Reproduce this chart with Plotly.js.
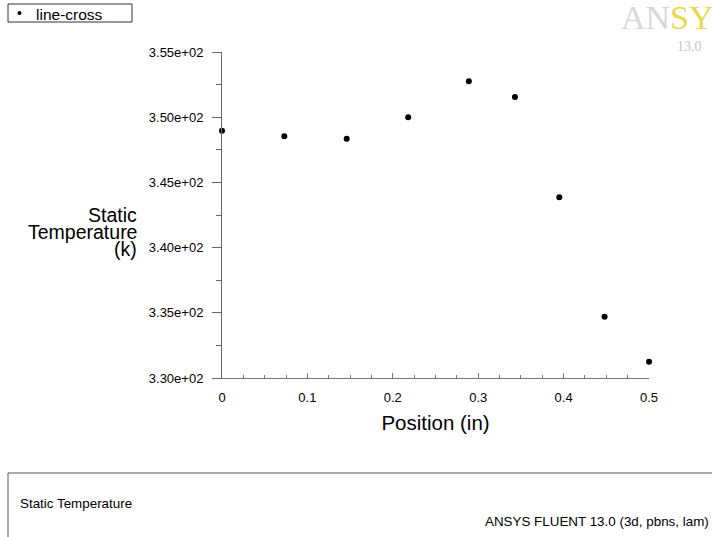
<!DOCTYPE html>
<html>
<head>
<meta charset="utf-8">
<script src="https://cdn.plot.ly/plotly-3.0.1.min.js"></script>
<style>html,body{margin:0;padding:0;background:#fff;}#chart{width:712px;height:537px;}</style>
</head>
<body>
<div id="chart"></div>
<script>
// Data
const seriesName = "line-cross";
const positionIn = [0.0, 0.073, 0.146, 0.218, 0.289, 0.343, 0.395, 0.448, 0.5];
const staticTempK = [348.97, 348.54, 348.35, 349.99, 352.75, 351.55, 343.86, 334.70, 331.25];
const yTickVals = [330, 335, 340, 345, 350, 355];
const yTickText = ["3.30e+02", "3.35e+02", "3.40e+02", "3.45e+02", "3.50e+02", "3.55e+02"];
const xTickVals = [0, 0.1, 0.2, 0.3, 0.4, 0.5];
const xTickText = ["0", "0.1", "0.2", "0.3", "0.4", "0.5"];
const yTitleLines = ["Static", "Temperature", "(k)"];

const W = 712, H = 537;
const L = 222, R = 649, T = 52, B = 378;
const px = x => (x - L) / (R - L);
const py = y => (B - y) / (B - T);

const trace = {
  x: positionIn, y: staticTempK, type: 'scatter', mode: 'markers', name: seriesName,
  marker: {color: '#000', size: 6}, cliponaxis: false, showlegend: false
};

const fam = 'Liberation Sans, Arial, sans-serif';
const f = (size, color) => ({family: fam, size: size, color: color || '#000'});

const annotations = [];
yTitleLines.forEach((t, i) => {
  annotations.push({xref: 'paper', yref: 'paper', x: px(138), y: py(215 + 17 * i),
    xanchor: 'right', yanchor: 'middle', text: t, showarrow: false, font: f(19.5), borderpad: 0});
});
annotations.push(
  {xref: 'paper', yref: 'paper', x: px(15), y: py(13), xanchor: 'left', yanchor: 'middle',
   text: '\u2022', showarrow: false, font: f(14)},
  {xref: 'paper', yref: 'paper', x: px(34), y: py(14), xanchor: 'left', yanchor: 'middle',
   text: seriesName, showarrow: false, font: f(15.5)},
  {xref: 'paper', yref: 'paper', x: px(18), y: py(503), xanchor: 'left', yanchor: 'middle',
   text: 'Static Temperature', showarrow: false, font: f(13.4)},
  {xref: 'paper', yref: 'paper', x: px(711), y: py(521), xanchor: 'right', yanchor: 'middle',
   text: 'ANSYS FLUENT 13.0 (3d, pbns, lam)', showarrow: false, font: f(13.4)},
  {xref: 'paper', yref: 'paper', x: px(620), y: py(18), xanchor: 'left', yanchor: 'middle',
   text: 'AN<span style="color:#e6d94a">SYS</span>', showarrow: false, borderpad: 0,
   font: {family: 'Liberation Serif, serif', size: 34, color: '#d8d8d8'}},
  {xref: 'paper', yref: 'paper', x: px(676), y: py(46), xanchor: 'left', yanchor: 'middle',
   text: '13.0', showarrow: false, borderpad: 0,
   font: {family: 'Liberation Serif, serif', size: 14, color: '#c4c4c4'}}
);

const layout = {
  width: W, height: H, autosize: false,
  margin: {l: L, r: W - R, t: T, b: H - B, pad: 0},
  paper_bgcolor: '#fff', plot_bgcolor: '#fff',
  font: f(12),
  showlegend: false,
  xaxis: {
    range: [0, 0.5], tickmode: 'array', tickvals: xTickVals, ticktext: xTickText,
    showgrid: false, zeroline: false, showline: true, linecolor: '#777', linewidth: 1,
    ticks: 'inside', ticklen: 5, tickcolor: '#777',
    minor: {dtick: 0.025, ticks: 'inside', ticklen: 3, tickcolor: '#777'},
    tickfont: f(13), ticklabelstandoff: 7,
    title: {text: 'Position (in)', font: f(20.5), standoff: 12}
  },
  yaxis: {
    range: [330, 355], tickmode: 'array', tickvals: yTickVals, ticktext: yTickText,
    showgrid: false, zeroline: false, showline: true, linecolor: '#666', linewidth: 1,
    ticks: 'outside', ticklen: 9, tickcolor: '#666',
    minor: {dtick: 2.5, ticks: 'outside', ticklen: 5, tickcolor: '#666'},
    tickfont: f(13), ticklabelstandoff: 6
  },
  shapes: [
    {type: 'rect', xref: 'paper', yref: 'paper', x0: px(8), x1: px(132), y0: py(4), y1: py(22),
     line: {color: '#333', width: 1}, fillcolor: 'rgba(0,0,0,0)'},
    {type: 'rect', xref: 'paper', yref: 'paper', x0: px(8), x1: px(740), y0: py(473), y1: py(560),
     line: {color: '#555', width: 1}, fillcolor: 'rgba(0,0,0,0)'}
  ],
  annotations: annotations
};

Plotly.newPlot('chart', [trace], layout, {displayModeBar: false, staticPlot: true});
</script>
</body>
</html>
